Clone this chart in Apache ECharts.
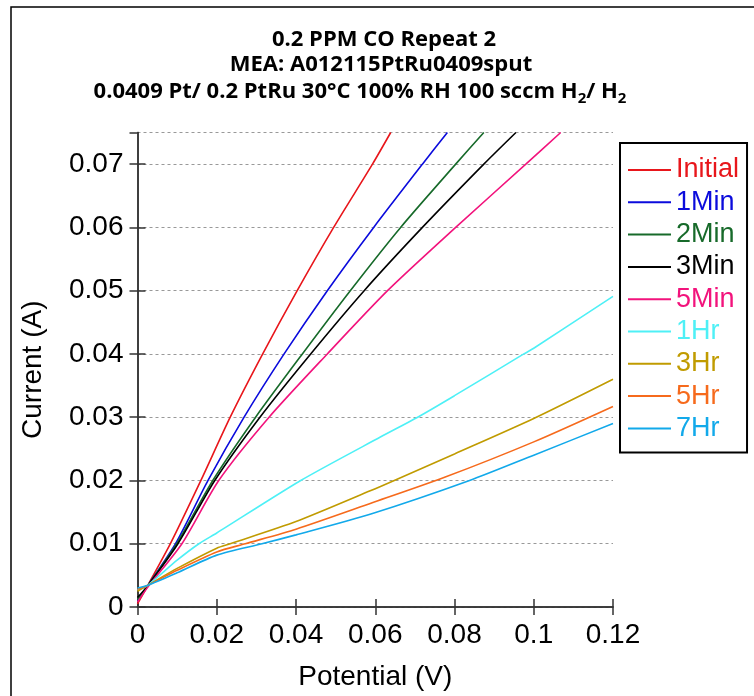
<!DOCTYPE html>
<html>
<head>
<meta charset="utf-8">
<script src="https://cdn.jsdelivr.net/npm/echarts@6/dist/echarts.min.js"></script>
<style>html,body{margin:0;padding:0;background:#fff}#c{width:754px;height:696px}</style>
</head>
<body>
<div id="c"></div>
<script>
// Potential (V), Current (A)
const seriesNames = ['Initial','1Min','2Min','3Min','5Min','1Hr','3Hr','5Hr','7Hr'];
const seriesColors = ['#e8161b','#0b0bdc','#176a2a','#000000','#f2137c','#4ef0f6','#c09b00','#f66a1c','#12a9ea'];
const initial = [[0,0.0005],[0.0025,0.0033],[0.0083,0.01],[0.0160,0.02],[0.0234,0.03],[0.0316,0.04],[0.0403,0.05],[0.0495,0.06],[0.0593,0.07],[0.0639,0.075]];
const min1 = [[0,0.001],[0.0025,0.0033],[0.0096,0.01],[0.0178,0.02],[0.0269,0.03],[0.0370,0.04],[0.0479,0.05],[0.0596,0.06],[0.0719,0.07],[0.0782,0.075]];
const min2 = [[0,0.0012],[0.0025,0.0033],[0.0099,0.01],[0.0190,0.02],[0.0298,0.03],[0.0416,0.04],[0.0537,0.05],[0.0664,0.06],[0.0803,0.07],[0.0874,0.075]];
const min3 = [[0,0.0015],[0.0025,0.0033],[0.0102,0.01],[0.0195,0.02],[0.0309,0.03],[0.0437,0.04],[0.0572,0.05],[0.0719,0.06],[0.0874,0.07],[0.0955,0.075]];
const min5 = [[0,0.0008],[0.0028,0.0033],[0.0112,0.01],[0.0205,0.02],[0.0332,0.03],[0.0479,0.04],[0.0631,0.05],[0.0803,0.06],[0.0980,0.07],[0.1068,0.075]];
const hr1 = [[0,0.0027],[0.0025,0.0034],[0.01,0.0074],[0.0155,0.01],[0.02,0.0117],[0.0412,0.02],[0.0614,0.0269],[0.0707,0.03],[0.08,0.0334],[0.0975,0.04],[0.10,0.0409],[0.12,0.0491]];
const hr3 = [[0,0.0025],[0.0025,0.0034],[0.01,0.0061],[0.02,0.0093],[0.0234,0.01],[0.04,0.0135],[0.0589,0.0184],[0.0648,0.02],[0.08,0.0242],[0.10,0.0298],[0.12,0.0360]];
const hr5 = [[0,0.0028],[0.0025,0.0034],[0.01,0.0058],[0.02,0.0087],[0.0272,0.01],[0.04,0.0123],[0.0589,0.0164],[0.0775,0.0205],[0.10,0.0261],[0.12,0.0317]];
const hr7 = [[0,0.003],[0.0025,0.0034],[0.01,0.0054],[0.02,0.0082],[0.0314,0.01],[0.04,0.0114],[0.0589,0.0147],[0.0838,0.02],[0.10,0.0240],[0.12,0.0290]];
const allData = [initial,min1,min2,min3,min5,hr1,hr3,hr5,hr7];
const xTicks = {min:0, max:0.12, interval:0.02};
const yTicks = {min:0, max:0.075, interval:0.01};
const titleLines = ['0.2 PPM CO Repeat 2','MEA: A012115PtRu0409sput'];

const chart = echarts.init(document.getElementById('c'), null, {renderer:'canvas'});
const axisFont = 'Liberation Sans, Arial, sans-serif';
const titleFont = 'Open Sans, sans-serif';
const lineCol = '#333';

const option = {
  animation:false,
  backgroundColor:'#fff',
  graphic:[
    {type:'rect', shape:{x:11,y:7,width:900,height:900}, style:{fill:'none',stroke:'#000',lineWidth:1.5}, z:-10},
    {type:'text', x:384, y:40, style:{text:titleLines[0], font:'bold 22px '+titleFont, fill:'#000', textAlign:'center', textVerticalAlign:'middle'}},
    {type:'text', x:381, y:65, style:{text:titleLines[1], font:'bold 22px '+titleFont, fill:'#000', textAlign:'center', textVerticalAlign:'middle'}},
    {type:'text', x:360, y:92, style:{
      text:'0.0409 Pt/ 0.2 PtRu 30°C 100% RH 100 sccm H{s|2}/ H{s|2}',
      font:'bold 22px '+titleFont, fill:'#000', textAlign:'center', textVerticalAlign:'middle',
      rich:{s:{font:'bold 15px '+titleFont, fill:'#000', padding:[13,0,0,0]}}
    }}
  ],
  grid:{left:137.5, right:141, top:132.5, bottom:89, containLabel:false},
  legend:{
    orient:'vertical', left:620, top:143,
    backgroundColor:'#fff', borderColor:'#000', borderWidth:2, borderRadius:0,
    padding:[12,8,9,8],
    icon:'rect', itemWidth:43, itemHeight:2, itemGap:2.3,
    textStyle:{fontFamily:axisFont, fontSize:27, lineHeight:30},
    data: seriesNames.map((n,i)=>({name:n, textStyle:{color:seriesColors[i]}}))
  },
  xAxis:[
    {type:'value', min:xTicks.min, max:xTicks.max, interval:xTicks.interval, position:'bottom',
     name:'Potential (V)', nameLocation:'middle', nameGap:56,
     nameTextStyle:{fontFamily:axisFont, fontSize:28, color:'#000'},
     axisLine:{lineStyle:{color:lineCol, width:1.5}},
     axisTick:{inside:true, length:8, lineStyle:{color:lineCol, width:1.5}},
     axisLabel:{fontFamily:axisFont, fontSize:28, color:'#000', margin:14},
     splitLine:{show:false}},
    {type:'value', min:xTicks.min, max:xTicks.max, interval:xTicks.interval, position:'top',
     axisLine:{lineStyle:{color:lineCol, width:1.5}},
     axisTick:{inside:true, length:8, lineStyle:{color:lineCol, width:1.5}},
     axisLabel:{show:false}, splitLine:{show:false}}
  ],
  yAxis:[
    {type:'value', min:yTicks.min, max:yTicks.max, interval:yTicks.interval, position:'left',
     name:'Current (A)', nameLocation:'middle', nameGap:90,
     nameTextStyle:{fontFamily:axisFont, fontSize:28, color:'#000'},
     axisLine:{show:true, lineStyle:{color:lineCol, width:1.5}},
     axisTick:{show:true, inside:true, length:8, lineStyle:{color:lineCol, width:1.5}},
     axisLabel:{fontFamily:axisFont, fontSize:28, color:'#000', margin:14, showMaxLabel:false},
     splitLine:{show:true, lineStyle:{color:'#999', width:1, type:[3,3]}}},
    {type:'value', min:yTicks.min, max:yTicks.max, interval:yTicks.interval, position:'right',
     axisLine:{show:true, lineStyle:{color:lineCol, width:1.5}},
     axisTick:{show:true, inside:true, length:8, lineStyle:{color:lineCol, width:1.5}},
     axisLabel:{show:false}, splitLine:{show:false}}
  ],
  series: seriesNames.map((n,i)=>({
    name:n, type:'line', data:allData[i], symbol:'none', clip:true,
    smooth:0.25,
    lineStyle:{color:seriesColors[i], width:1.6}, itemStyle:{color:seriesColors[i]}
  }))
};
chart.setOption(option);
</script>
</body>
</html>
